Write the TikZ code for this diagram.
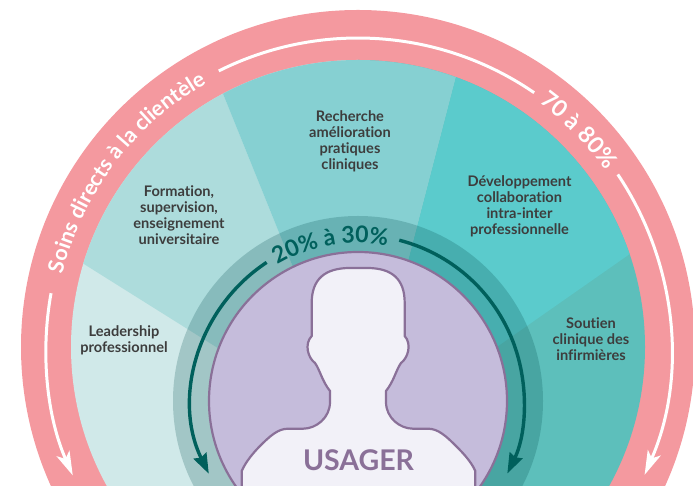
\documentclass[tikz,border=0pt]{standalone}
\usepackage{fontspec}
\setmainfont[Ligatures=NoCommon]{Lato}
\usetikzlibrary{decorations.text,arrows.meta}
\definecolor{pinkring}{HTML}{F4999F}
\definecolor{secA}{HTML}{D0E9E9}
\definecolor{secB}{HTML}{ADDCDC}
\definecolor{secC}{HTML}{86D0D2}
\definecolor{secD}{HTML}{5BCBCC}
\definecolor{secE}{HTML}{5DBFBB}
\definecolor{bandc}{HTML}{004A4C}
\definecolor{darkteal}{HTML}{00605C}
\definecolor{purplefill}{HTML}{C5BCDB}
\definecolor{purpleline}{HTML}{8A7098}
\definecolor{headfill}{HTML}{F2F1F8}
\definecolor{labelc}{HTML}{3D3D3D}
\newcommand{\ringfont}{\bfseries\fontsize{21.5}{24}\selectfont}
\newcommand{\ringfontb}{\bfseries\fontsize{23}{24}\selectfont}
\newcommand{\midfont}{\bfseries\fontsize{23}{24}\selectfont}
\tikzset{
  lbl/.style={align=center,text=labelc,font=\bfseries\fontsize{14.6}{16}\selectfont,inner sep=0pt},
  whitearc/.style={white,line width=3pt},
  tealarc/.style={darkteal,line width=3.4pt},
  whitetip/.style={-{Stealth[length=24pt,width=14pt,inset=6pt]}},
  tealtip/.style={-{Stealth[length=20pt,width=14pt,inset=2pt]}}
}
\begin{document}
\begin{tikzpicture}[x=1pt,y=1pt]
\useasboundingbox (0,0) rectangle (693,486);
\clip (0,0) rectangle (693,486);
\fill[pinkring] (358,139) circle[radius=337];
\begin{scope}
  \clip (358,139) circle[radius=287];
  \fill[secA] (-50,-100) rectangle (358,536);
  \fill[secE] (358,-100) rectangle (800,536);
  \fill[secB] (347,85) -- (165,536) -- (-50,536) -- (-50,306) -- (358,50) -- cycle;
  \fill[secC] (347,85) -- (165,536) -- (489,536) -- (372,85) -- cycle;
  \fill[secD] (372,85) -- (489,536) -- (800,536) -- (800,351) -- (358,42) -- cycle;
\end{scope}
\fill[bandc,opacity=.22] (358,85) circle[radius=185];
\draw[purpleline,line width=2.2pt,fill=purplefill] (358,85) circle[radius=149];
\begin{scope}
  \clip (358,85) circle[radius=148.2];
  \draw[purpleline,line width=2.2pt,fill=headfill]
    (241.7,-10) -- (241.7,15)
    .. controls (246,25) and (255,35) .. (260,40)
    .. controls (270,50) and (278,57.3) .. (288,57.3)
    -- (303,57.3)
    .. controls (316,57.3) and (330,68) .. (330,84)
    -- (330,95)
    .. controls (322,105) and (320,116) .. (315,123)
    .. controls (308,128) and (304,142) .. (311.7,150)
    -- (311.7,183)
    .. controls (311.7,207) and (325,218) .. (350,218)
    -- (367,218)
    .. controls (392,218) and (404.7,207) .. (404.7,183)
    -- (404.7,150)
    .. controls (412,142) and (408,128) .. (401,123)
    .. controls (396,116) and (394,105) .. (386,95)
    -- (386,84)
    .. controls (386,68) and (400,57.3) .. (413,57.3)
    -- (428,57.3)
    .. controls (438,57.3) and (446,50) .. (456,40)
    .. controls (461,35) and (471,25) .. (475.3,15)
    -- (475.3,-10) -- cycle;
\end{scope}
\draw[tealarc,tealtip] (358,85) ++(123.4:166) arc[start angle=123.4,end angle=206,radius=166];
\draw[tealarc,tealtip] (358,85) ++(75.6:166) arc[start angle=75.6,end angle=-25.9,radius=166];
\draw[whitearc] (358,137) ++(116.6:311) arc[start angle=116.6,end angle=55.5,radius=311];
\draw[whitearc,whitetip] (358,137) ++(169.7:312) arc[start angle=169.7,end angle=203.9,radius=312];
\draw[whitearc,whitetip] (358,137) ++(33.9:313) arc[start angle=33.9,end angle=-23.7,radius=313];
\path[decorate,decoration={text along path,text align=center,text color=white,
  text={|\ringfont|Soins directs à la clientèle}}]
  (358,139) ++(172:304) arc[start angle=172,end angle=114,radius=304];
\path[decorate,decoration={text along path,text align=center,text color=white,
  text={|\ringfontb|70 à 80{\%}}}]
  (358,139) ++(56:304) arc[start angle=56,end angle=33,radius=304];
\path[decorate,decoration={text along path,text align=center,text color=darkteal,
  text={|\midfont|20{\%} à 30{\%}}}]
  (358,85) ++(127:158) arc[start angle=127,end angle=73,radius=158];
\node[lbl] (rech) at (350,345) {Recherche\\amélioration\\pratiques\\cliniques};
\node[lbl] (form) at (179,270.5) {Formation,\\supervision,\\enseignement\\universitaire};
\node[lbl] (dev) at (519.5,280) {Développement\\collaboration\\intra-inter\\professionnelle};
\node[lbl] (lead) at (124,146) {Leadership\\professionnel};
\node[lbl] (sout) at (591,147) {Soutien\\clinique des\\infirmières};
\node[inner sep=0pt,text=purpleline,font=\bfseries\fontsize{28.5}{30}\selectfont] (usager) at (358.5,26) {USAGER};
\end{tikzpicture}
\end{document}
